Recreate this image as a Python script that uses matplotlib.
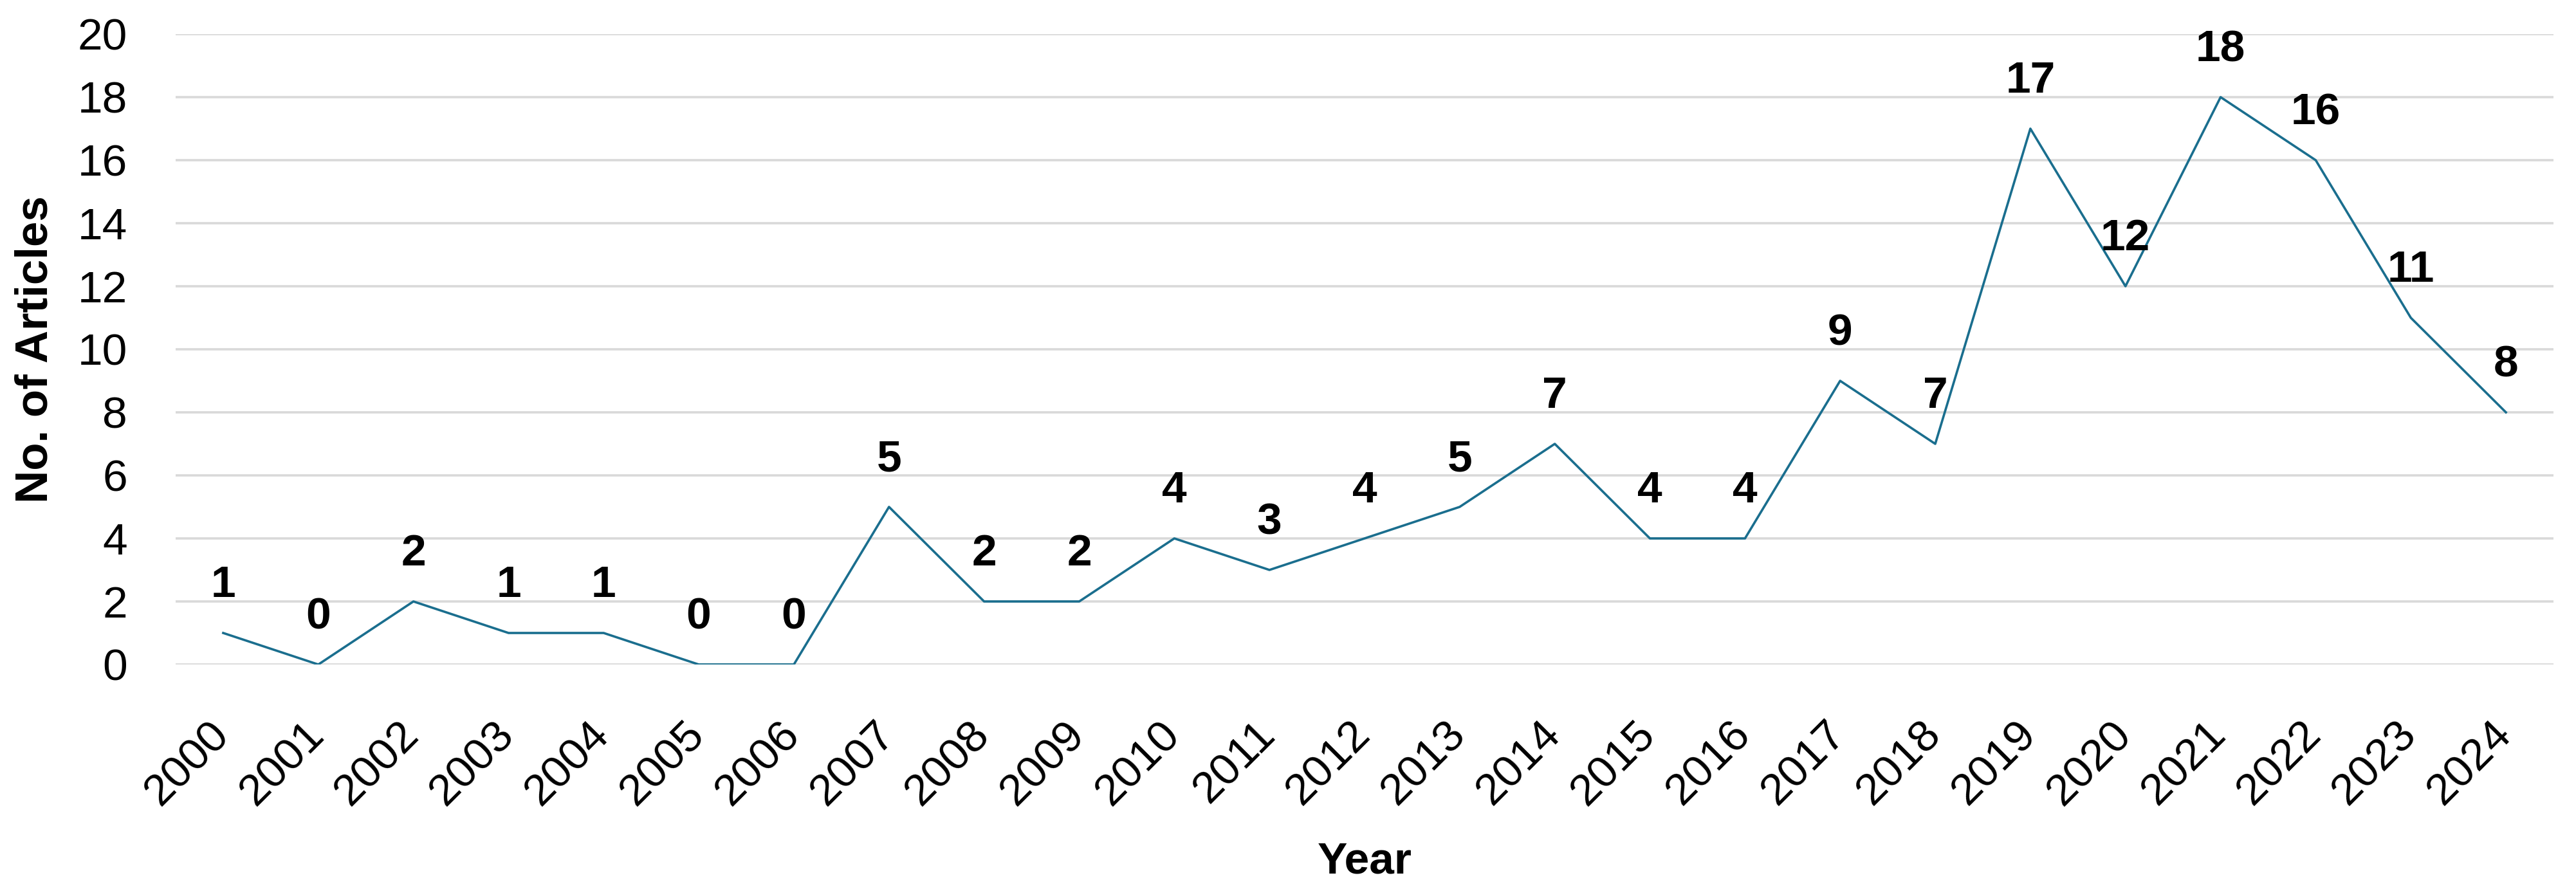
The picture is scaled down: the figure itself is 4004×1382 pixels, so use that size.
import matplotlib
matplotlib.use('Agg')
import matplotlib.pyplot as plt
import matplotlib.transforms as mtransforms

""" Data """
years = [str(y) for y in range(2000, 2025)]
articles = [1, 0, 2, 1, 1, 0, 0, 5, 2, 2, 4, 3, 4, 5, 7, 4, 4, 9, 7, 17, 12, 18, 16, 11, 8]
yTicks = list(range(0, 21, 2))

plt.rcParams['font.family'] = ['Liberation Sans', 'DejaVu Sans']

fig = plt.figure(figsize=(40.05, 13.82), dpi=100)
ax = fig.add_axes([273 / 4005, 1 - 1033 / 1382, (3969 - 273) / 4005, (1033 - 53) / 1382])

x = list(range(len(years)))
ax.plot(x, articles, color='#1a6e8e', linewidth=2.6, zorder=3)

for i, v in enumerate(articles):
    ax.annotate(str(v), (i, v), xytext=(0, 40), textcoords='offset points',
                ha='center', va='baseline', fontsize=50, fontweight='bold', color='black')

ax.set_xlim(-0.5, len(years) - 0.5)
ax.set_ylim(0, 20)
ax.set_yticks(yTicks)
ax.set_yticklabels([str(t) for t in yTicks], fontsize=50)
ax.set_xticks(x)
ax.set_xticklabels(years, fontsize=50, rotation=45, ha='right', va='top', rotation_mode='anchor')
ax.tick_params(axis='both', length=0)
ax.tick_params(axis='y', pad=54)
ax.tick_params(axis='x', pad=55)

# pull the year labels a bit left so they end under their tick
shift = mtransforms.ScaledTranslation(-24 / 100, 0, fig.dpi_scale_trans)
for lbl in ax.get_xticklabels():
    lbl.set_transform(lbl.get_transform() + shift)

ax.grid(axis='y', color='#d9d9d9', linewidth=2.6, zorder=0)
ax.set_axisbelow(True)
for s in ax.spines.values():
    s.set_visible(False)

fig.text(56 / 4005, 1 - 543 / 1382, 'No. of Articles', rotation=90, ha='center', va='center',
         fontsize=51, fontweight='bold')
fig.text((273 + 3969) / 2 / 4005, 1 - 1357 / 1382, 'Year', ha='center', va='baseline',
         fontsize=50, fontweight='bold')

fig.savefig('out.png', dpi=100, facecolor='white')
